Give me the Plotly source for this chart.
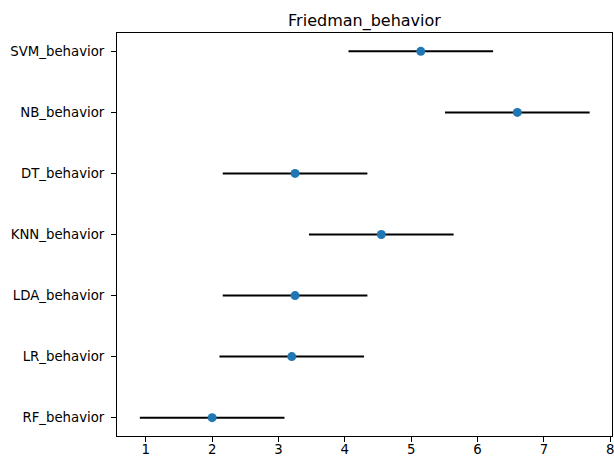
import plotly.graph_objects as go

# Data (bottom to top)
models = ["RF_behavior", "LR_behavior", "LDA_behavior", "KNN_behavior",
          "DT_behavior", "NB_behavior", "SVM_behavior"]
mean_ranks = [2.00, 3.20, 3.25, 4.55, 3.25, 6.60, 5.145]
half_cd = [1.09, 1.09, 1.09, 1.09, 1.09, 1.09, 1.09]
positions = list(range(len(models)))

fig = go.Figure()
fig.add_trace(go.Scatter(
    x=mean_ranks, y=positions, mode="markers",
    marker=dict(color="#1f77b4", size=9),
    error_x=dict(type="data", array=half_cd, symmetric=True,
                 color="black", thickness=2, width=0),
    showlegend=False,
))

fig.update_layout(
    width=614, height=457,
    margin=dict(l=117, r=2, t=33, b=21, autoexpand=False),
    paper_bgcolor="white", plot_bgcolor="white",
    font=dict(family="DejaVu Sans", size=13.3, color="black"),
    title=dict(text="Friedman_behavior", x=0.5, xref="paper", xanchor="center",
               y=1, yref="paper", yanchor="bottom", pad=dict(b=7),
               font=dict(size=16, color="black"), automargin=False),
    xaxis=dict(range=[0.566, 8.027], tickvals=[1, 2, 3, 4, 5, 6, 7, 8],
               showgrid=False, zeroline=False, showline=True, mirror=True,
               linecolor="black", linewidth=1, ticks="outside", ticklen=5,
               tickcolor="black", tickwidth=1, automargin=False,
               ticklabelstandoff=-4, ticklabeloverflow="allow"),
    yaxis=dict(range=[-0.3, 6.3], tickvals=positions, ticktext=models,
               showgrid=False, zeroline=False, showline=True, mirror=True,
               linecolor="black", linewidth=1, ticks="outside", ticklen=5,
               tickcolor="black", tickwidth=1, automargin=False,
               ticklabelstandoff=4),
)

fig.write_html("out.html")
